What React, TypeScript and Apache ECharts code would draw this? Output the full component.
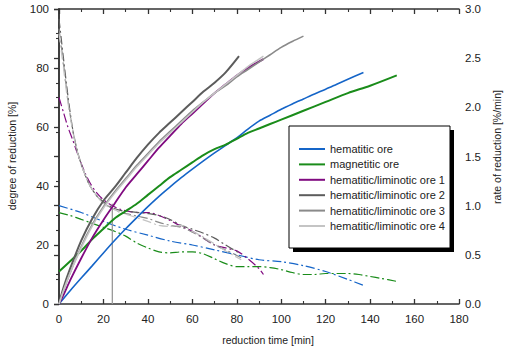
import React, { useEffect, useRef } from "react";
import * as echarts from "echarts";

const FONT = "'Liberation Sans', Arial, sans-serif";

// degree of reduction [%] (left axis)
const hemT = [0, 5, 10, 15, 20, 25, 30, 35, 40, 45, 50, 55, 60, 65, 70, 75, 80, 85, 90, 95, 100, 105, 110, 115, 120, 125, 130, 137];
const hemD = [0, 4.5, 8.8, 13, 17.3, 21.5, 25.5, 29.3, 33, 36.5, 39.7, 42.8, 45.7, 48.5, 51.2, 53.8, 56.3, 59.3, 62, 64, 66, 67.8, 69.5, 71.2, 72.8, 74.5, 76.2, 78.5];

const magT = [0, 5, 10, 15, 20, 25, 30, 35, 40, 45, 50, 55, 60, 65, 70, 75, 80, 85, 90, 95, 100, 110, 120, 130, 140, 152];
const magD = [11, 14.5, 18, 22, 25.5, 29, 31.5, 34, 37, 40, 43, 45.5, 48, 50.5, 52.5, 54, 56, 58, 59.5, 61, 62.5, 65.5, 68.5, 71.5, 74, 77.5];

const lim1T = [0, 2, 5, 10, 15, 20, 25, 30, 35, 40, 45, 50, 55, 60, 65, 70, 75, 80, 85, 92];
const lim1D = [0, 3, 8, 15.5, 22.5, 28.5, 34, 39.5, 44, 48.5, 53, 57, 61, 64.5, 68, 71.5, 74.5, 77.5, 80, 83];

const lim2T = [0, 2, 5, 10, 15, 20, 25, 30, 35, 40, 45, 50, 55, 60, 65, 70, 75, 81];
const lim2D = [0, 5.5, 12, 21.5, 29, 35, 39.5, 44.5, 49.5, 54, 58, 61.5, 65, 68.5, 72, 75, 78.5, 84];

const lim3T = [0, 2, 5, 10, 15, 20, 25, 30, 35, 40, 45, 50, 55, 60, 65, 70, 75, 80, 85, 90, 95, 100, 105, 110];
const lim3D = [0, 4.5, 10.5, 19.5, 27, 33, 38, 42.5, 47, 51, 55, 58.5, 62, 65.5, 68.5, 71.5, 74, 77, 79.5, 82, 84.5, 87, 89, 90.8];

const lim4T = [0, 2, 5, 10, 15, 20, 25, 30, 35, 40, 45, 50, 55, 60, 65, 70, 75, 80, 85, 90, 92];
const lim4D = [0, 4.5, 10.5, 19, 26.5, 32.5, 37.5, 42, 46.5, 50.5, 54.5, 58, 61.5, 65, 68.5, 71.5, 74.5, 77.5, 80.5, 83, 84];

// rate of reduction [%/min] (right axis)
const hemRT = [0, 10, 20, 30, 40, 50, 60, 70, 80, 90, 100, 110, 120, 130, 137];
const hemR = [1.0, 0.93, 0.84, 0.76, 0.7, 0.64, 0.6, 0.55, 0.5, 0.45, 0.43, 0.39, 0.33, 0.25, 0.19];

const magRT = [0, 5, 10, 15, 20, 25, 30, 35, 40, 45, 50, 55, 60, 65, 70, 75, 80, 85, 90, 95, 100, 105, 110, 115, 120, 125, 130, 135, 140, 145, 152];
const magR = [0.93, 0.9, 0.86, 0.82, 0.78, 0.74, 0.69, 0.62, 0.57, 0.53, 0.52, 0.53, 0.53, 0.51, 0.46, 0.41, 0.38, 0.38, 0.38, 0.37, 0.35, 0.32, 0.3, 0.3, 0.31, 0.31, 0.31, 0.3, 0.28, 0.26, 0.23];

const lim1RT = [0, 2, 4, 6, 8, 10, 12, 14, 17, 20, 24, 28, 32, 36, 40, 45, 50, 55, 60, 65, 70, 75, 80, 85, 90, 92];
const lim1R = [2.1, 1.95, 1.8, 1.68, 1.55, 1.43, 1.32, 1.23, 1.13, 1.06, 1.0, 0.96, 0.94, 0.93, 0.93, 0.9, 0.85, 0.79, 0.74, 0.67, 0.6, 0.57, 0.54, 0.46, 0.36, 0.3];

const lim2RT = [0, 1, 2, 4, 6, 8, 10, 12, 14, 17, 20, 24, 28, 32, 36, 40, 45, 50, 55, 60, 65, 70, 75, 81];
const lim2R = [2.9, 2.7, 2.5, 2.12, 1.8, 1.58, 1.42, 1.3, 1.2, 1.1, 1.04, 0.98, 0.95, 0.94, 0.93, 0.92, 0.9, 0.86, 0.8, 0.76, 0.72, 0.67, 0.6, 0.52];

const lim3RT = [0, 2, 4, 6, 8, 10, 12, 14, 17, 20, 24, 28, 32, 36, 40, 45, 50, 55, 60, 65, 70, 75, 82];
const lim3R = [2.8, 2.45, 2.08, 1.79, 1.57, 1.42, 1.3, 1.2, 1.1, 1.03, 0.97, 0.93, 0.91, 0.89, 0.87, 0.83, 0.8, 0.78, 0.73, 0.67, 0.6, 0.55, 0.47];

const lim4RT = [0, 2, 4, 6, 8, 10, 12, 14, 17, 20, 24, 28, 32, 36, 40, 45, 50, 55, 60, 65, 70, 75, 82];
const lim4R = [2.75, 2.4, 2.05, 1.78, 1.57, 1.42, 1.3, 1.2, 1.1, 1.02, 0.97, 0.93, 0.9, 0.87, 0.84, 0.8, 0.79, 0.8, 0.74, 0.68, 0.61, 0.54, 0.45];

// marker line at t = 24 min
const markerT = [24, 24];
const markerD = [0, 34];

const names = [
  "hematitic ore",
  "magnetic ore",
  "hematitic/liminotic ore 1",
  "hematitic/liminotic ore 2",
  "hematitic/liminotic ore 3",
  "hematitic/liminotic ore 4",
];
const legendNames = [
  "hematitic ore",
  "magnetitic ore",
  "hematitic/liminotic ore 1",
  "hematitic/liminotic ore 2",
  "hematitic/liminotic ore 3",
  "hematitic/liminotic ore 4",
];
const colors = ["#1565c8", "#1a8c1a", "#800a80", "#5c5c5c", "#8a8a8a", "#c4c4c4"];
const widths = [1.6, 2, 1.8, 2, 1.6, 1.6];

const degT = [hemT, magT, lim1T, lim2T, lim3T, lim4T];
const degV = [hemD, magD, lim1D, lim2D, lim3D, lim4D];
const rateT = [hemRT, magRT, lim1RT, lim2RT, lim3RT, lim4RT];
const rateV = [hemR, magR, lim1R, lim2R, lim3R, lim4R];

const zip = (t: number[], v: number[]) => t.map((x, i) => [x, v[i]]);

export default function App() {
  const ref = useRef<HTMLDivElement>(null);
  useEffect(() => {
    if (!ref.current) return;
    const chart = echarts.init(ref.current, null, { renderer: "svg" });
    const axisColor = "#333";
    const labelStyle = { color: "#222", fontFamily: FONT, fontSize: 11.5 };

    const series: any[] = [];
    // rate lines first (underneath)
    for (let i = 0; i < 6; i++) {
      series.push({
        name: names[i] + " rate",
        type: "line",
        xAxisIndex: 0,
        yAxisIndex: 1,
        data: zip(rateT[i], rateV[i]),
        showSymbol: false,
        smooth: 0.3,
        lineStyle: { color: colors[i], width: 1.2, type: [9, 3, 2, 3] },
        itemStyle: { color: colors[i] },
        silent: true,
      });
    }
    series.push({
      name: "marker",
      type: "line",
      data: zip(markerT, markerD),
      showSymbol: false,
      lineStyle: { color: "#999", width: 1.3 },
      silent: true,
    });
    for (let i = 0; i < 6; i++) {
      series.push({
        name: legendNames[i],
        type: "line",
        xAxisIndex: 0,
        yAxisIndex: 0,
        data: zip(degT[i], degV[i]),
        showSymbol: false,
        smooth: 0.3,
        lineStyle: { color: colors[i], width: widths[i] },
        itemStyle: { color: colors[i] },
        silent: true,
      });
    }

    chart.setOption({
      animation: false,
      grid: { left: 59, right: 52, top: 9, bottom: 45, containLabel: false },
      xAxis: [
        {
          type: "value",
          min: 0,
          max: 180,
          interval: 20,
          position: "bottom",
          axisLine: { show: true, lineStyle: { color: axisColor, width: 1.5 } },
          axisTick: { show: true, inside: true, length: 5, lineStyle: { color: axisColor, width: 1.3 } },
          minorTick: { show: true, splitNumber: 2, length: 3, lineStyle: { color: axisColor, width: 1.1 } },
          axisLabel: { ...labelStyle, margin: 9 },
          splitLine: { show: false },
        },
        {
          type: "value",
          min: 0,
          max: 180,
          interval: 20,
          position: "top",
          axisLine: { show: true, onZero: false, lineStyle: { color: axisColor, width: 1.5 } },
          axisTick: { show: true, inside: true, length: 5, lineStyle: { color: axisColor, width: 1.3 } },
          minorTick: { show: true, splitNumber: 2, length: 3, lineStyle: { color: axisColor, width: 1.1 } },
          axisLabel: { show: false },
          splitLine: { show: false },
        },
      ],
      yAxis: [
        {
          type: "value",
          min: 0,
          max: 100,
          interval: 20,
          position: "left",
          axisLine: { show: true, lineStyle: { color: axisColor, width: 1.5 } },
          axisTick: { show: true, inside: false, length: 5, lineStyle: { color: axisColor, width: 1.3 } },
          minorTick: { show: true, splitNumber: 2, length: 3, lineStyle: { color: axisColor, width: 1.1 } },
          axisLabel: { ...labelStyle, margin: 10 },
          splitLine: { show: false },
        },
        {
          type: "value",
          min: 0,
          max: 3,
          interval: 0.5,
          position: "right",
          axisLine: { show: true, lineStyle: { color: axisColor, width: 1.5 } },
          axisTick: { show: true, inside: true, length: 5, lineStyle: { color: axisColor, width: 1.3 } },
          minorTick: { show: true, splitNumber: 2, length: 3, lineStyle: { color: axisColor, width: 1.1 } },
          axisLabel: { ...labelStyle, margin: 6, formatter: (v: number) => v.toFixed(1) },
          splitLine: { show: false },
        },
      ],
      legend: {
        show: true,
        orient: "vertical",
        left: 299,
        top: 142.5,
        padding: 0,
        itemGap: 2.4,
        itemWidth: 26,
        itemHeight: 2,
        icon: "rect",
        z: 20,
        data: legendNames,
        textStyle: { color: "#222", fontFamily: FONT, fontSize: 11, lineHeight: 13 },
      },
      graphic: [
        { type: "rect", z: 10, shape: { x: 293, y: 130, width: 161, height: 122 }, style: { fill: "#000" } },
        { type: "rect", z: 11, shape: { x: 289, y: 126, width: 161, height: 122 }, style: { fill: "#fff", stroke: "#000", lineWidth: 1 } },
        {
          type: "text",
          z: 12,
          x: 268,
          y: 340,
          style: { text: "reduction time [min]", font: `10.5px ${FONT}`, fill: "#222", textAlign: "center", textVerticalAlign: "middle" },
        },
        {
          type: "text",
          z: 12,
          x: 12,
          y: 156,
          rotation: Math.PI / 2,
          style: { text: "degree of reduction [%]", font: `10.5px ${FONT}`, fill: "#222", textAlign: "center", textVerticalAlign: "middle" },
        },
        {
          type: "text",
          z: 12,
          x: 497,
          y: 147,
          rotation: Math.PI / 2,
          style: { text: "rate of reduction [%/min]", font: `10.5px ${FONT}`, fill: "#222", textAlign: "center", textVerticalAlign: "middle" },
        },
      ],
      series,
    });
    return () => chart.dispose();
  }, []);
  return <div ref={ref} style={{ width: 511, height: 349, position: "absolute", left: 0, top: 0 }} />;
}
